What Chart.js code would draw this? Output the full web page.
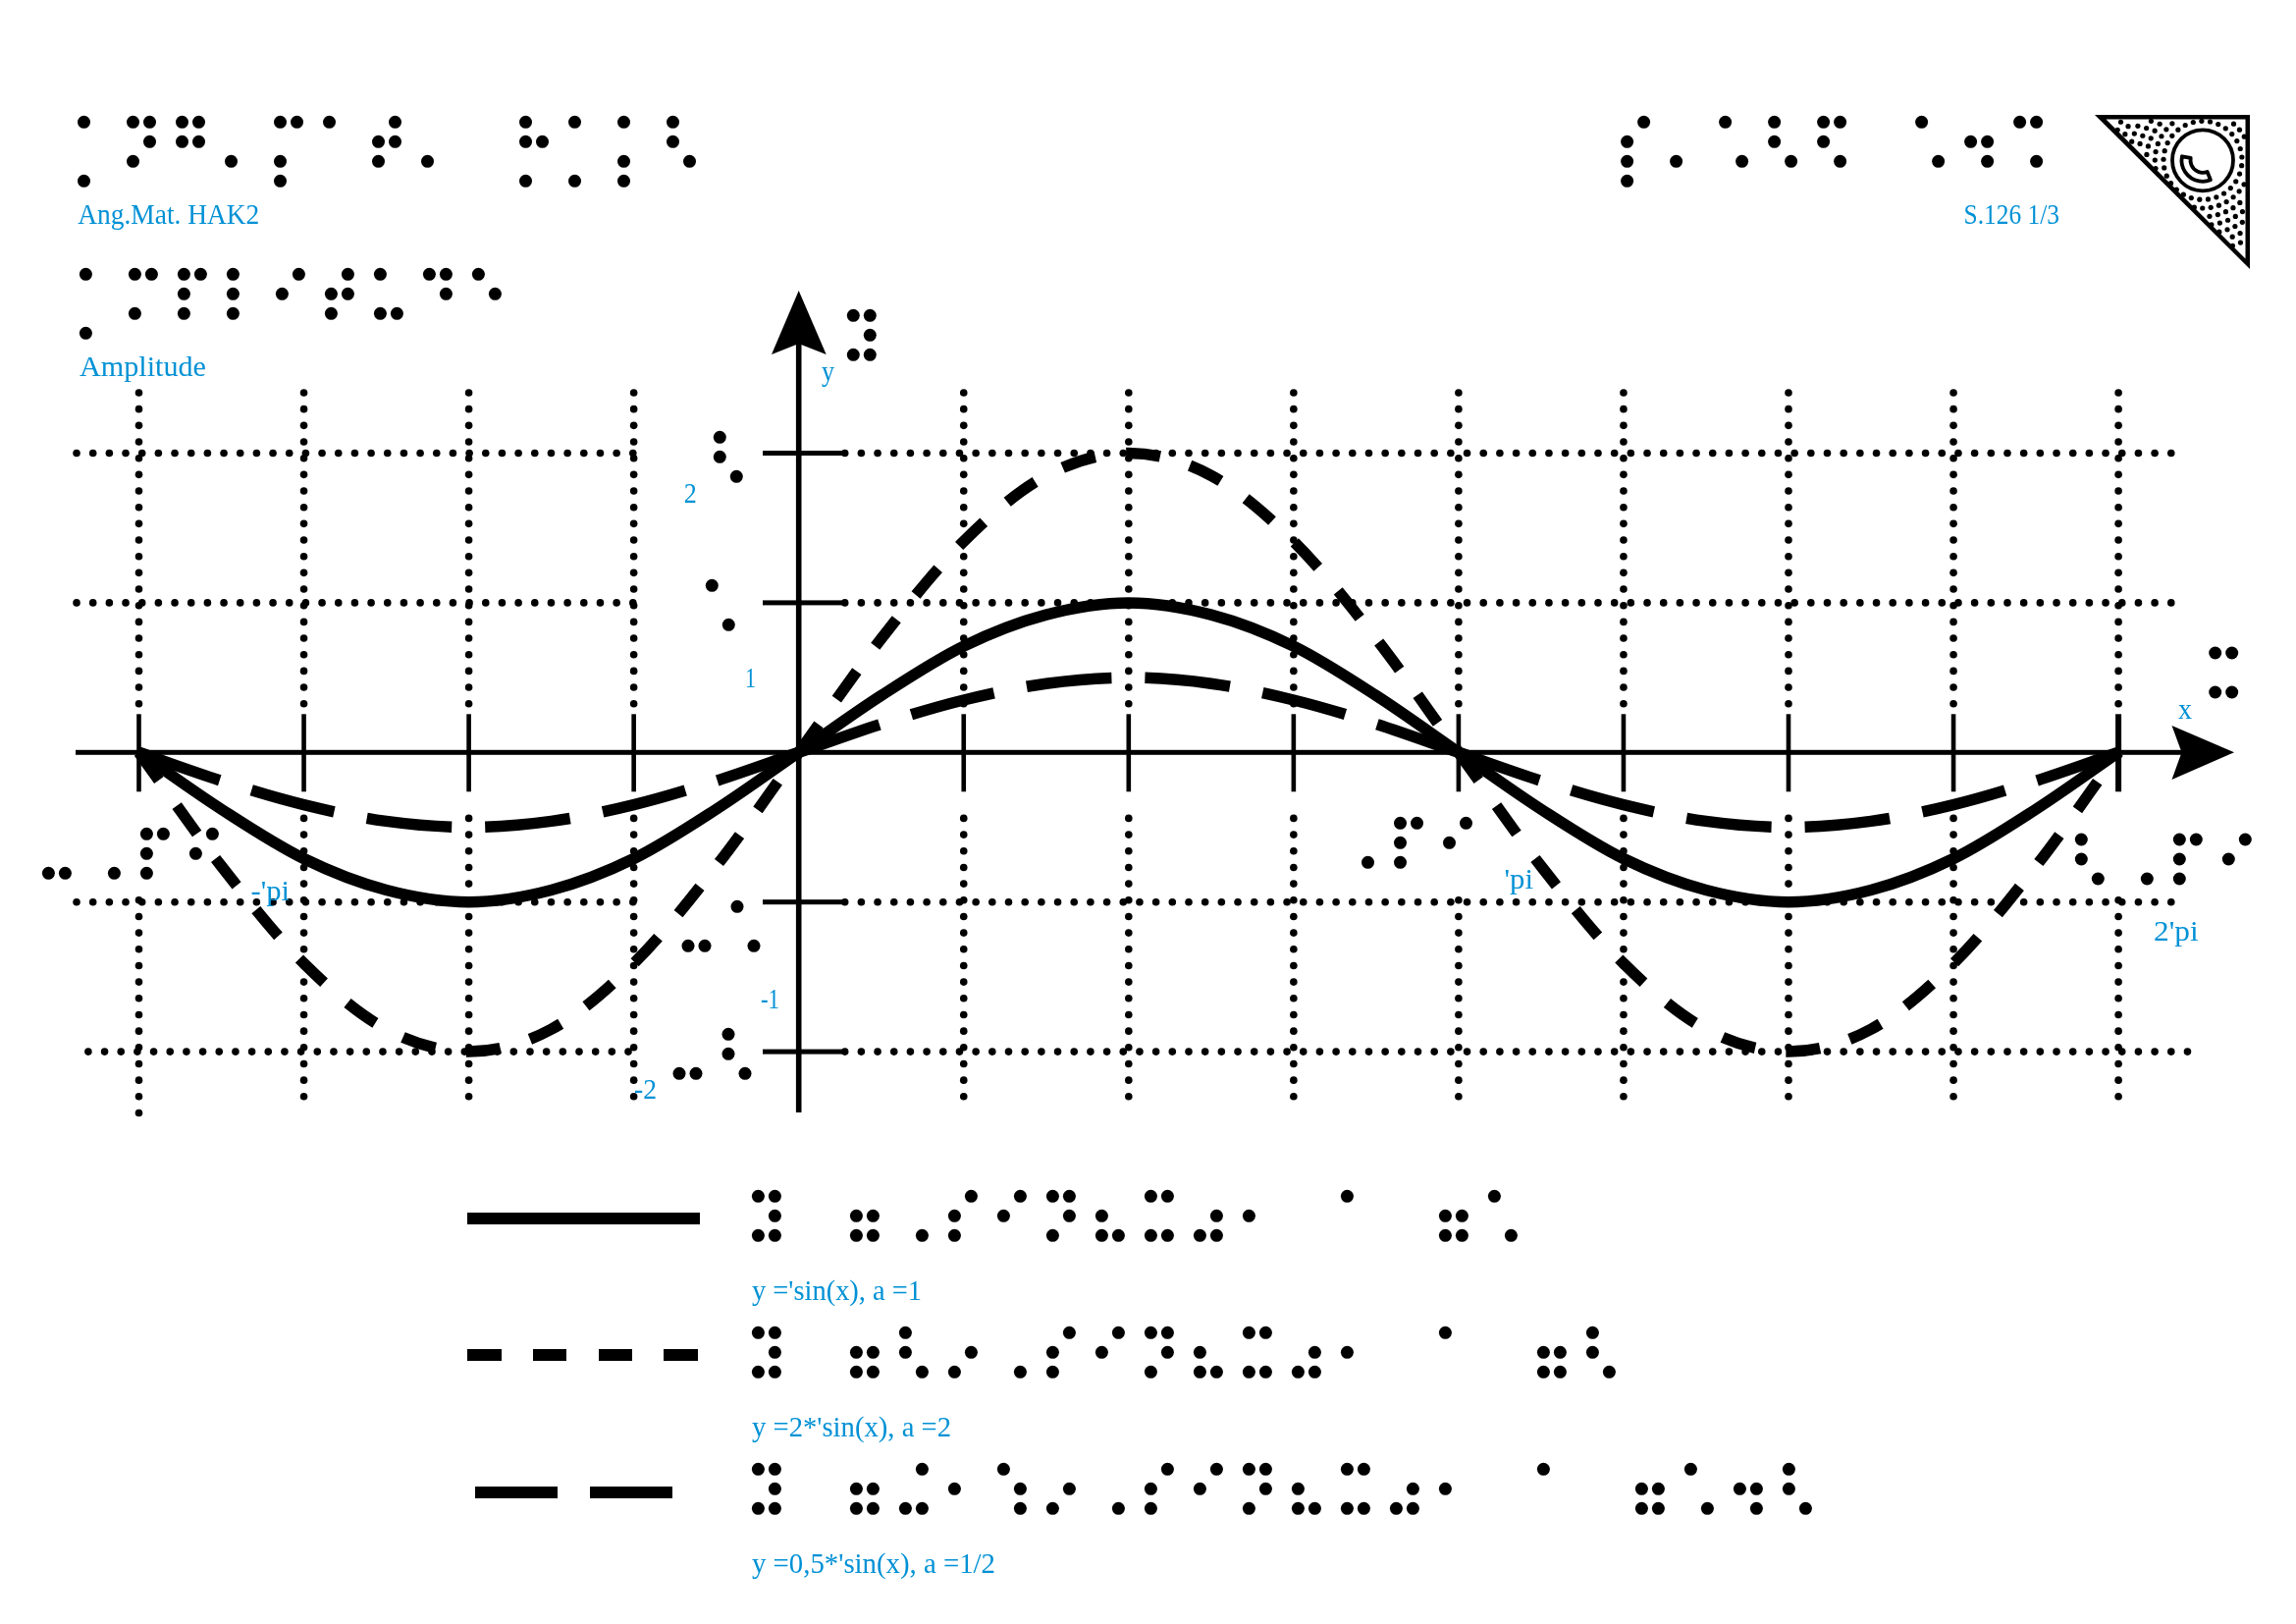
<!DOCTYPE html>
<html>
<head>
<meta charset="utf-8">
<title>Amplitude</title>
<script src="https://cdn.jsdelivr.net/npm/chart.js@4/dist/chart.umd.min.js"></script>
<style>
    html, body { margin: 0; padding: 0; background: #fff; }
    canvas { display: block; }
</style>
</head>
<body>
<canvas id="chart" width="2339" height="1654"></canvas>
<script>
// x is in units of pi
const xValues = [-1, -0.875, -0.75, -0.625, -0.5, -0.375, -0.25, -0.125, 0,
    0.125, 0.25, 0.375, 0.5, 0.625, 0.75, 0.875, 1,
    1.125, 1.25, 1.375, 1.5, 1.625, 1.75, 1.875, 2];
const sinValues = [0, -0.38, -0.71, -0.92, -1, -0.92, -0.71, -0.38, 0,
    0.38, 0.71, 0.92, 1, 0.92, 0.71, 0.38, 0,
    -0.38, -0.71, -0.92, -1, -0.92, -0.71, -0.38, 0];
const doubleValues = [0, -0.76, -1.41, -1.85, -2, -1.85, -1.41, -0.76, 0,
    0.76, 1.41, 1.85, 2, 1.85, 1.41, 0.76, 0,
    -0.76, -1.41, -1.85, -2, -1.85, -1.41, -0.76, 0];
const halfValues = [0, -0.19, -0.35, -0.46, -0.5, -0.46, -0.35, -0.19, 0,
    0.19, 0.35, 0.46, 0.5, 0.46, 0.35, 0.19, 0,
    -0.19, -0.35, -0.46, -0.5, -0.46, -0.35, -0.19, 0];
const xTicks = [-1, -0.75, -0.5, -0.25, 0.25, 0.5, 0.75, 1, 1.25, 1.5, 1.75, 2];
const yTicks = [2, 1, -1, -2];

// braille cells, written as dot numbers
const brailleHeader = ["17", "1345", "1245", "3", "1347", "1", "2345", "3", "", "1257", "17", "137", "126"];
const brailleTitle = ["17", "134", "1234", "123", "24", "2345", "136", "145", "15"];
const braillePage = ["2347", "3", "16", "126", "1246", "", "16", "256", "146"];
const brailleLegend1 = ["13456", "", "2356", "6", "234", "24", "1345", "236", "1346", "356", "2", "", "1", "", "2356", "16"];
const brailleLegend2 = ["13456", "", "2356", "126", "35", "6", "234", "24", "1345", "236", "1346", "356", "2", "", "1", "", "2356", "126"];
const brailleLegend3 = ["13456", "", "2356", "346", "2", "156", "35", "6", "234", "24", "1345", "236", "1346", "356", "2", "", "1", "", "2356", "16", "256", "126"];

const BLUE = "#0091d5";
const ORIGIN_X = 813.7, PX_PER_PI = 672.2;
const ORIGIN_Y = 766.3, PX_PER_UNIT = 152.4;
const W = 2339, H = 1654;

const brailleSpots = [
    [brailleHeader, 85.5, 124.3],
    [brailleTitle, 87.4, 279.3],
    [braillePage, 1657.6, 124.3],
    [["13456"], 869.3, 321.3],
    [["1346"], 2256.7, 665],
    [["126"], 733.3, 445.3],
    [["16"], 725.3, 596.3],
    [["36", "16"], 701, 923.3],
    [["36", "126"], 692, 1053.3],
    [["36", "6", "1234", "24"], 49.4, 849.3],
    [["6", "1234", "24"], 1376.5, 838.3],
    [["126", "6", "1234", "24"], 2120.3, 855],
    [brailleLegend1, 772.4, 1218.3],
    [brailleLegend2, 772.4, 1357.3],
    [brailleLegend3, 772.4, 1496.3],
];

// text, left, baseline, width in the sheet
const textSpots = [
    ["Ang.Mat. HAK2", 79.3, 228, 185],
    ["Amplitude", 81, 383, 129],
    ["S.126 1/3", 2000.6, 228, 97.4],
    ["y", 837, 388, 13],
    ["x", 2219, 732, 14],
    ["2", 696.7, 512, 13],
    ["1", 759, 700, 11],
    ["-1", 775, 1027, 19],
    ["-2", 646, 1119, 23],
    ["-'pi", 255.5, 917, 39.5],
    ["'pi", 1532.5, 905, 29.5],
    ["2'pi", 2194, 958, 45.6],
    ["y ='sin(x), a =1", 766, 1323.5, 173],
    ["y =2*'sin(x), a =2", 766, 1462.5, 203],
    ["y =0,5*'sin(x), a =1/2", 766, 1601.5, 248],
];

function drawBraille(ctx, cells, left, top) {
    const rows = { 1: 0, 2: 1, 3: 2, 7: 3, 4: 0, 5: 1, 6: 2, 8: 3 };
    ctx.fillStyle = "#000";
    cells.forEach((cell, i) => {
        for (const ch of cell) {
            const col = "4568".includes(ch) ? 1 : 0;
            ctx.beginPath();
            ctx.arc(left + i * 50 + col * 17, top + rows[ch] * 20, 6.5, 0, Math.PI * 2);
            ctx.fill();
        }
    });
}

function dot(ctx, x, y, r) {
    ctx.beginPath();
    ctx.arc(x, y, r, 0, Math.PI * 2);
    ctx.fill();
}

function drawGrid(ctx, sx, sy) {
    ctx.fillStyle = "#000";
    xTicks.forEach(t => {
        const px = sx.getPixelForValue(t);
        let ranges = [[0, 19], [26, 43]];
        if (t === -1) ranges = [[0, 19], [31, 44]];
        if (t === 1 || t === 2) ranges = [[0, 19], [31, 43]];
        ranges.forEach(([a, b]) => {
            for (let k = a; k <= b; k++) dot(ctx, px, 400 + k * 16.67, 3.8);
        });
    });
    yTicks.forEach(t => {
        const py = sy.getPixelForValue(t);
        const leftStart = t === -2 ? 640 : 644.8;
        const leftCount = t === -2 ? 33 : 34;
        for (let j = 0; j <= leftCount; j++) dot(ctx, leftStart - j * 16.67, py, 3.8);
        const rightCount = t === -2 ? 82 : 81;
        for (let j = 0; j <= rightCount; j++) dot(ctx, 860.7 + j * 16.68, py, 3.8);
    });
}

function drawAxes(ctx, sx, sy) {
    ctx.fillStyle = "#000";
    const ox = sx.getPixelForValue(0), oy = sy.getPixelForValue(0);
    ctx.fillRect(77, oy - 2.5, 2150 - 77 + 80, 5);
    ctx.fillRect(ox - 2.8, 350, 5.6, 1133 - 350);
    xTicks.forEach(t => {
        const px = sx.getPixelForValue(t);
        const w = t === 2 ? 6 : 4.6;
        ctx.fillRect(px - w / 2, oy - 39, w, 79);
    });
    yTicks.forEach(t => {
        ctx.fillRect(777, sy.getPixelForValue(t) - 2.5, 81, 5);
    });
    ctx.beginPath();
    ctx.moveTo(2276, oy);
    ctx.lineTo(2212.5, 739);
    ctx.lineTo(2222.5, oy);
    ctx.lineTo(2212.5, 794);
    ctx.closePath();
    ctx.fill();
    ctx.beginPath();
    ctx.moveTo(ox, 296);
    ctx.lineTo(786, 361);
    ctx.lineTo(ox, 350);
    ctx.lineTo(841.7, 361);
    ctx.closePath();
    ctx.fill();
}

function drawLegendLines(ctx) {
    ctx.fillStyle = "#000";
    ctx.fillRect(476, 1235, 237, 12);
    [[476, 35], [543, 34], [610, 34], [676, 35]].forEach(([x, w]) => ctx.fillRect(x, 1374, w, 12));
    [[484, 84], [601, 84]].forEach(([x, w]) => ctx.fillRect(x, 1514, w, 12));
}

function drawLogo(ctx) {
    const cx = 2244, cy = 163.3;
    ctx.fillStyle = "#000";
    ctx.beginPath();
    ctx.moveTo(2134, 117);
    ctx.lineTo(2292, 117);
    ctx.lineTo(2292, 274);
    ctx.closePath();
    ctx.fill();
    ctx.fillStyle = "#fff";
    ctx.beginPath();
    ctx.moveTo(2145.5, 121.5);
    ctx.lineTo(2287.5, 121.5);
    ctx.lineTo(2287.5, 263.5);
    ctx.closePath();
    ctx.fill();

    ctx.fillStyle = "#000";
    for (let r = 40; r < 135; r += 8.7) {
        const n = Math.round(2 * Math.PI * r / 8.6);
        for (let i = 0; i < n; i++) {
            const a = i / n * Math.PI * 2 + r;
            const x = cx + r * Math.cos(a), y = cy + r * Math.sin(a);
            const inside = y > 122.5 && x < 2286.5 && (y - 117) - (x - 2134) < -7;
            if (inside) dot(ctx, x, y, 2.6);
        }
    }

    ctx.strokeStyle = "#000";
    ctx.lineWidth = 3.8;
    ctx.beginPath();
    ctx.arc(cx, cy, 31, 0, Math.PI * 2);
    ctx.stroke();
    ctx.lineJoin = "round";
    ctx.beginPath();
    ctx.arc(cx, cy, 21.5, Math.PI * 1.06, Math.PI * 0.38, true);
    ctx.arc(cx, cy, 12.5, Math.PI * 0.38, Math.PI * 1.06, false);
    ctx.closePath();
    ctx.stroke();
}

function drawText(ctx, text, x, y, width) {
    ctx.save();
    ctx.translate(x, y);
    ctx.scale(width / ctx.measureText(text).width, 1);
    ctx.fillText(text, 0, 0);
    ctx.restore();
}

const sheetPlugin = {
    id: "sheet",
    beforeDatasetsDraw(chart) {
        const ctx = chart.ctx, sx = chart.scales.x, sy = chart.scales.y;
        ctx.save();
        drawGrid(ctx, sx, sy);
        drawAxes(ctx, sx, sy);
        ctx.restore();
    },
    afterDatasetsDraw(chart) {
        const ctx = chart.ctx;
        ctx.save();
        brailleSpots.forEach(([cells, x, y]) => drawBraille(ctx, cells, x, y));
        drawLegendLines(ctx);
        drawLogo(ctx);
        ctx.fillStyle = BLUE;
        ctx.font = "29px 'Liberation Serif'";
        ctx.textAlign = "left";
        ctx.textBaseline = "alphabetic";
        textSpots.forEach(([text, x, y, width]) => drawText(ctx, text, x, y, width));
        ctx.restore();
    },
};

function points(values, from, to) {
    return xValues.slice(from, to).map((x, i) => ({ x, y: values[from + i] }));
}

// the dashes restart at every zero crossing, so each half wave is its own dataset
function halfWaves(label, values, dash) {
    return [[0, 9], [8, 17], [16, 25]].map(([from, to], i) => ({
        label: label + " " + (i + 1),
        data: points(values, from, to),
        borderColor: "#000",
        borderWidth: 11.5,
        borderDash: dash,
        borderCapStyle: "butt",
        cubicInterpolationMode: "monotone",
        pointRadius: 0,
        fill: false,
    }));
}

new Chart(document.getElementById("chart"), {
    type: "line",
    data: {
        datasets: [
            {
                label: "y = sin(x)",
                data: points(sinValues, 0, 25),
                borderColor: "#000",
                borderWidth: 11.5,
                cubicInterpolationMode: "monotone",
                pointRadius: 0,
                fill: false,
            },
            ...halfWaves("y = 2 sin(x)", doubleValues, [35, 31.6]),
            ...halfWaves("y = 0.5 sin(x)", halfValues, [87, 34]),
        ],
    },
    options: {
        responsive: false,
        animation: false,
        layout: { padding: 0 },
        plugins: { legend: { display: false }, tooltip: { enabled: false } },
        scales: {
            x: {
                type: "linear", display: false,
                min: -ORIGIN_X / PX_PER_PI,
                max: (W - ORIGIN_X) / PX_PER_PI,
            },
            y: {
                type: "linear", display: false,
                min: (ORIGIN_Y - H) / PX_PER_UNIT,
                max: ORIGIN_Y / PX_PER_UNIT,
            },
        },
    },
    plugins: [sheetPlugin],
});
</script>
</body>
</html>
